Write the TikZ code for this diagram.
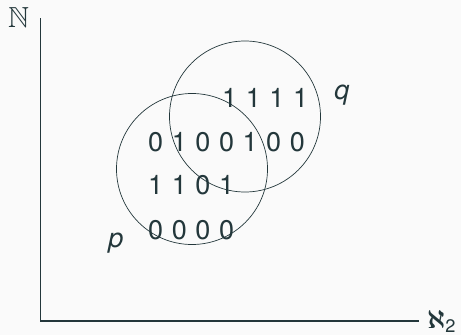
\documentclass[tikz,border=0pt]{standalone}
\usepackage{amsmath,amssymb}
\usepackage{graphicx}
\usepackage{fontspec}
\setmainfont{TeX Gyre Heros}
\definecolor{slate}{HTML}{23373B}
\definecolor{paper}{HTML}{FAFAFA}
\usetikzlibrary{positioning}
\newcommand\bitfont{\fontsize{27}{30}\selectfont\spaceskip=8.6pt\relax}

\begin{document}
\begin{tikzpicture}[x=1pt,y=-1pt,
  axis/.style={draw=slate,line width=1.2pt},
  set/.style={draw=slate,line width=0.7pt,circle,minimum size=151pt,inner sep=0pt},
  bits/.style={text=slate,anchor=west,inner sep=0pt,font=\bitfont},
  lbl/.style={text=slate,inner sep=0pt,font=\fontsize{27}{30}\selectfont}]
  \fill[paper] (0,0) rectangle (461,335);
  \useasboundingbox (0,0) rectangle (461,335);
  % axes
  \coordinate (ytop) at (40.5,18);
  \coordinate (origin) at (40.5,321);
  \coordinate (xend) at (419,321);
  \draw[axis] (ytop) -- (origin) -- (xend);
  \node[text=slate,inner sep=0pt] (nat) at (18.5,18) {\scalebox{2.9}{$\mathbb{N}$}};
  \node[text=slate,inner sep=0pt,anchor=west] (aleph) at (427,321) {\scalebox{2.6}{$\boldsymbol{\aleph}_{\text{2}}$}};
  % the two sets
  \node[set] (pset) at (192,169) {};
  \node[set] (qset) at (245,116.5) {};
  \node[lbl] (plabel) at (116,243) {\textit{p}};
  \node[lbl] (qlabel) at (342,95) {\textit{q}};
  % bit strings
  \node[bits] (row1) at (222,98) {1 1 1 1};
  \node[bits] (row2) at (148,142) {0 1 0 0 1 0 0};
  \node[bits] (row3) at (148,185) {1 1 0 1};
  \node[bits] (row4) at (148,230) {0 0 0 0};
\end{tikzpicture}
\end{document}
